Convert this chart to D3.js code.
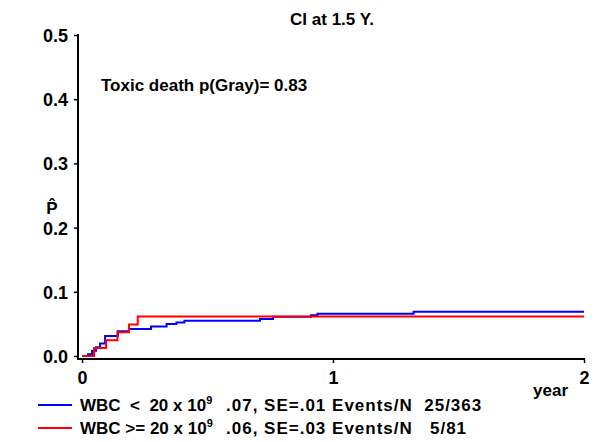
<!DOCTYPE html>
<html>
<head>
<meta charset="utf-8">
<script src="https://cdn.jsdelivr.net/npm/d3@7"></script>
<style>
  body { margin: 0; background: #fff; }
  svg text { font-family: "Liberation Sans", Arial, Helvetica, sans-serif; font-weight: bold; fill: #000; white-space: pre; }
</style>
</head>
<body>
<div id="chart"></div>
<script>
const width = 600,
  height = 442;

// cumulative incidence, step curves (time in years)
const blueTimes = [0, 0.024, 0.040, 0.056, 0.072, 0.092, 0.143, 0.187, 0.275, 0.337, 0.376, 0.408, 0.709, 0.761, 0.912, 0.938, 1.321, 2];
const blueCIF = [0, 0.0028, 0.0083, 0.0138, 0.0193, 0.031, 0.0385, 0.042, 0.046, 0.0497, 0.052, 0.055, 0.0575, 0.061, 0.0635, 0.066, 0.069, 0.069];
const redTimes = [0, 0.048, 0.096, 0.141, 0.187, 0.222, 2];
const redCIF = [0, 0.0123, 0.0247, 0.037, 0.049, 0.0617, 0.0617];

const yTicks = [0, 0.1, 0.2, 0.3, 0.4, 0.5];
const xTicks = [0, 1, 2];
const legendGroups = ["WBC  <  20 x 10", "WBC >= 20 x 10"];
const legendStats = [".07, SE=.01 Events/N  25/363", ".06, SE=.03 Events/N   5/81"];
const colors = ["#0000ff", "#ff0000"];

const svg = d3
  .select("#chart")
  .append("svg")
  .attr("width", width)
  .attr("height", height);

const x = d3.scaleLinear().domain([0, 2]).range([82, 584]);
const y = d3.scaleLinear().domain([0, 0.5]).range([356, 35]);

const axisX = 78, axisY = 359;

// y axis
const gy = svg
  .append("g")
  .attr("transform", `translate(${axisX},0)`)
  .call(d3.axisLeft(y).tickValues(yTicks).tickFormat(d3.format(".1f")).tickSize(4).tickPadding(6));
gy.select(".domain").remove();
gy.selectAll("line").attr("stroke", "#000").attr("stroke-width", 1.5);
gy.selectAll("text").style("font-size", "18px").attr("dy", "0.36em");

// x axis
const gx = svg
  .append("g")
  .attr("transform", `translate(0,${axisY})`)
  .call(d3.axisBottom(x).tickValues(xTicks).tickFormat(d3.format("d")).tickSize(4).tickPadding(8));
gx.select(".domain").remove();
gx.selectAll("line").attr("stroke", "#000").attr("stroke-width", 1.5);
gx.selectAll("text").style("font-size", "18px");

svg.append("line")
  .attr("x1", axisX).attr("x2", axisX)
  .attr("y1", y(0.5) - 1).attr("y2", axisY + 1)
  .attr("stroke", "#000").attr("stroke-width", 2);
svg.append("line")
  .attr("x1", axisX - 1).attr("x2", x(2) + 1)
  .attr("y1", axisY).attr("y2", axisY)
  .attr("stroke", "#000").attr("stroke-width", 2);

// curves
const line = d3.line()
  .x((d) => x(d[0]))
  .y((d) => y(d[1]))
  .curve(d3.curveStepAfter);

const series = [
  d3.zip(blueTimes, blueCIF),
  d3.zip(redTimes, redCIF)
];

svg.selectAll("path.curve")
  .data(series)
  .join("path")
  .attr("class", "curve")
  .attr("d", line)
  .attr("fill", "none")
  .attr("stroke", (d, i) => colors[i])
  .attr("stroke-width", 2);

// title and labels
svg.append("text")
  .attr("x", 332).attr("y", 25)
  .attr("text-anchor", "middle")
  .style("font-size", "17px")
  .text("CI at 1.5 Y.");

svg.append("text")
  .attr("x", 101).attr("y", 91)
  .style("font-size", "17px")
  .text("Toxic death p(Gray)= 0.83");

// y label: P hat
svg.append("text")
  .attr("x", 52).attr("y", 214)
  .attr("text-anchor", "middle")
  .style("font-size", "17px")
  .text("P\u0302");

svg.append("text")
  .attr("x", 568).attr("y", 396)
  .attr("text-anchor", "end")
  .style("font-size", "17px")
  .text("year");

// legend
const legend = svg.selectAll("g.legend")
  .data(legendGroups)
  .join("g")
  .attr("class", "legend")
  .attr("transform", (d, i) => `translate(0,${405 + i * 23})`);

legend.append("line")
  .attr("x1", 38).attr("x2", 72)
  .attr("y1", 0).attr("y2", 0)
  .attr("stroke", (d, i) => colors[i])
  .attr("stroke-width", 2);

const lt = legend.append("text")
  .attr("x", 80).attr("y", 6)
  .style("font-size", "17px");
lt.append("tspan").text((d) => d);
lt.append("tspan").attr("dy", -7).style("font-size", "11px").text("9");

legend.append("text")
  .attr("x", 226).attr("y", 6)
  .style("font-size", "17px")
  .style("letter-spacing", "1px")
  .text((d, i) => legendStats[i]);
</script>
</body>
</html>
